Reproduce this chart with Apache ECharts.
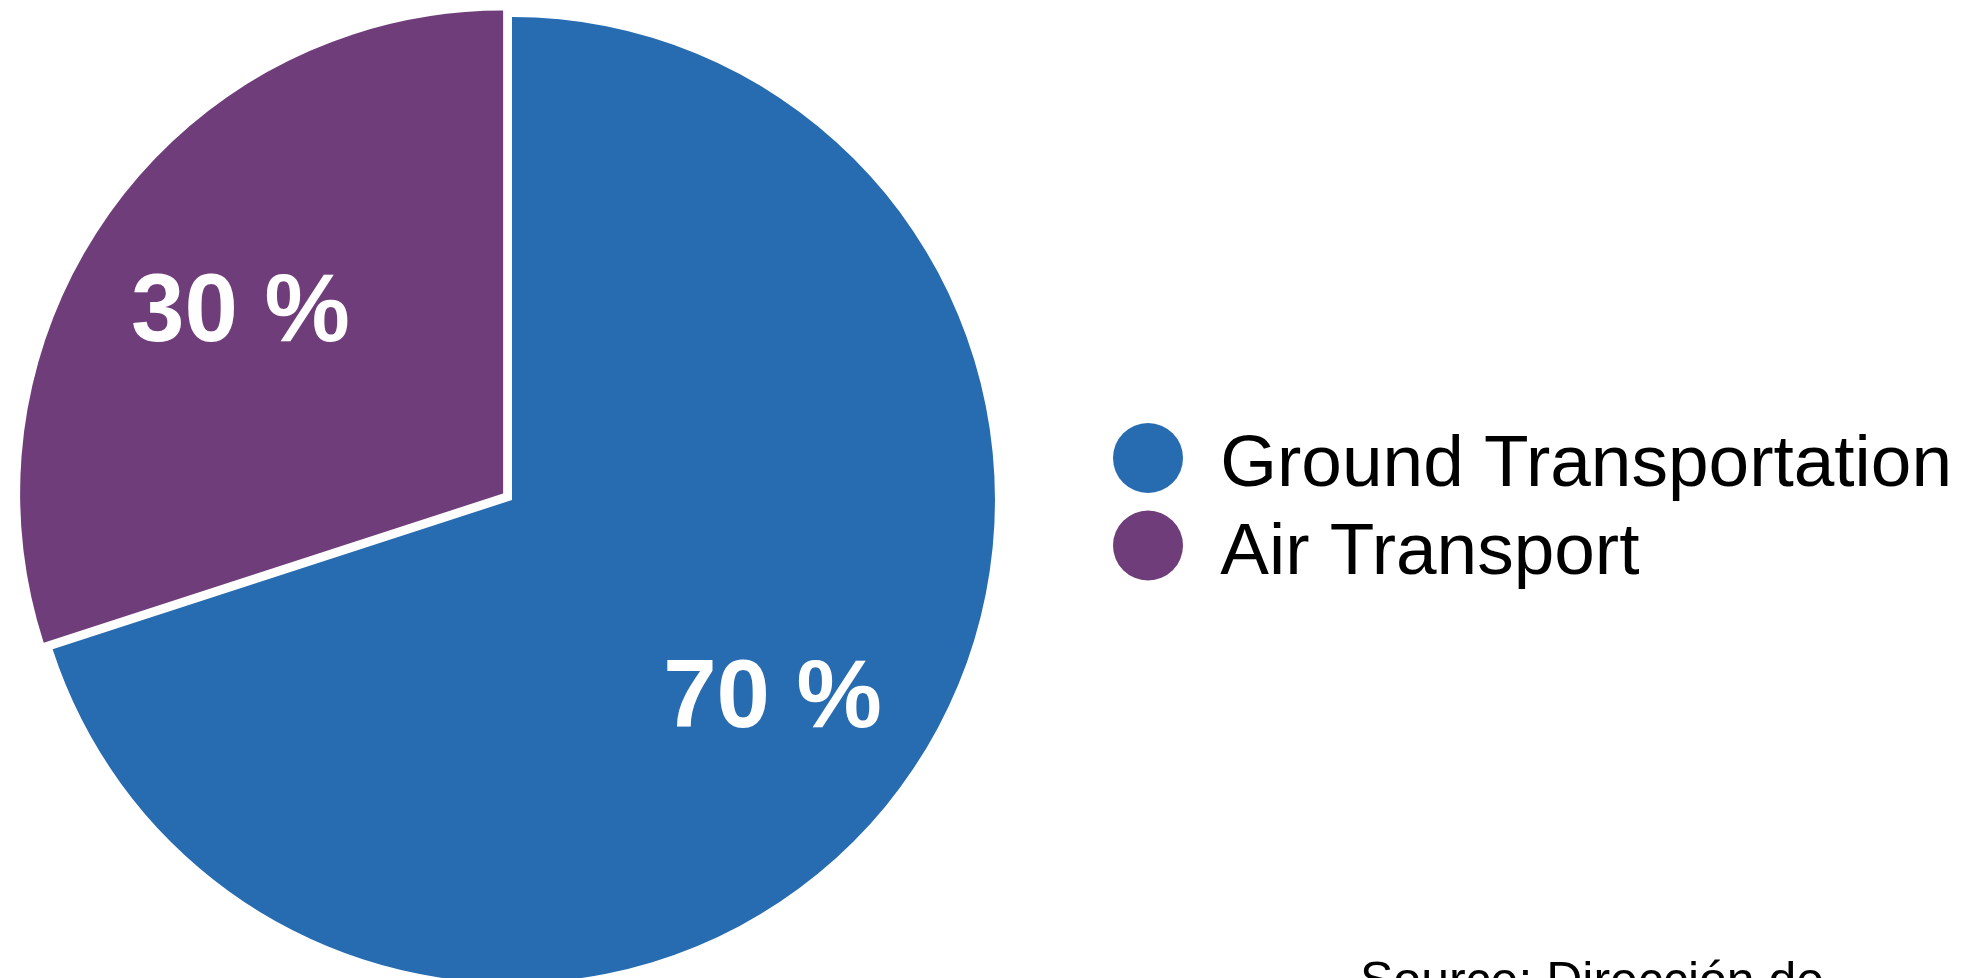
<!DOCTYPE html>
<html>
<head>
<meta charset="utf-8">
<script src="https://cdn.jsdelivr.net/npm/echarts@6/dist/echarts.min.js"></script>
<style>
html,body{margin:0;padding:0;background:#fff;}
#main{width:1984px;height:978px;}
</style>
</head>
<body>
<div id="main"></div>
<script>
const categories = ['Ground Transportation', 'Air Transport'];
const values = [70, 30];
const colors = ['#276BB1', '#6F3E7A'];
const sourceText = 'Source: Dirección de';

const FONT = 'Liberation Sans, Arial, Helvetica, sans-serif';
// label nudges (px); the Air slice label also follows that slice's pulled-out offset
const labelOffsets = [[-4, 8], [-7, 7]];
const chart = echarts.init(document.getElementById('main'), null, {renderer: 'canvas'});

const pieData = categories.map((name, i) => ({
  name: name,
  value: values[i],
  selected: i === 1,
  itemStyle: {color: colors[i]}
}));
const labelData = categories.map((name, i) => ({
  name: name,
  value: values[i],
  itemStyle: {color: 'rgba(0,0,0,0)'},
  label: {offset: labelOffsets[i]}
}));

chart.setOption({
  animation: false,
  backgroundColor: '#ffffff',
  title: {
    text: sourceText,
    left: 1355,
    top: 953,
    textStyle: {fontFamily: FONT, fontSize: 50, fontWeight: 'normal', color: '#000', lineHeight: 50}
  },
  legend: {
    orient: 'vertical',
    left: 1108,
    top: 418,
    icon: 'circle',
    itemWidth: 70,
    itemHeight: 70,
    itemGap: 8,
    selectedMode: false,
    data: categories.map((name, i) => ({name: name, itemStyle: {color: colors[i]}})),
    formatter: '{s| }{t|{name}}',
    textStyle: {
      fontFamily: FONT, fontSize: 73, color: '#000', padding: [0, 0, 0, 32],
      rich: {
        s: {fontSize: 1, lineHeight: 89},
        t: {fontFamily: FONT, fontSize: 73, color: '#000', lineHeight: 80, verticalAlign: 'bottom'}
      }
    }
  },
  series: [
    {
      type: 'pie',
      center: [512, 500],
      radius: [0, 483],
      startAngle: 90,
      clockwise: true,
      selectedMode: 'single',
      selectedOffset: 11,
      silent: true,
      label: {show: false},
      labelLine: {show: false},
      emphasis: {disabled: true},
      data: pieData
    },
    {
      type: 'pie',
      center: [512, 500],
      radius: [0, 648],
      startAngle: 90,
      clockwise: true,
      silent: true,
      z: 3,
      label: {
        show: true,
        position: 'inside',
        formatter: '{c} %',
        color: '#fff',
        fontFamily: FONT,
        fontWeight: 'bold',
        fontSize: 96
      },
      labelLine: {show: false},
      emphasis: {disabled: true},
      data: labelData
    }
  ]
});
</script>
</body>
</html>
